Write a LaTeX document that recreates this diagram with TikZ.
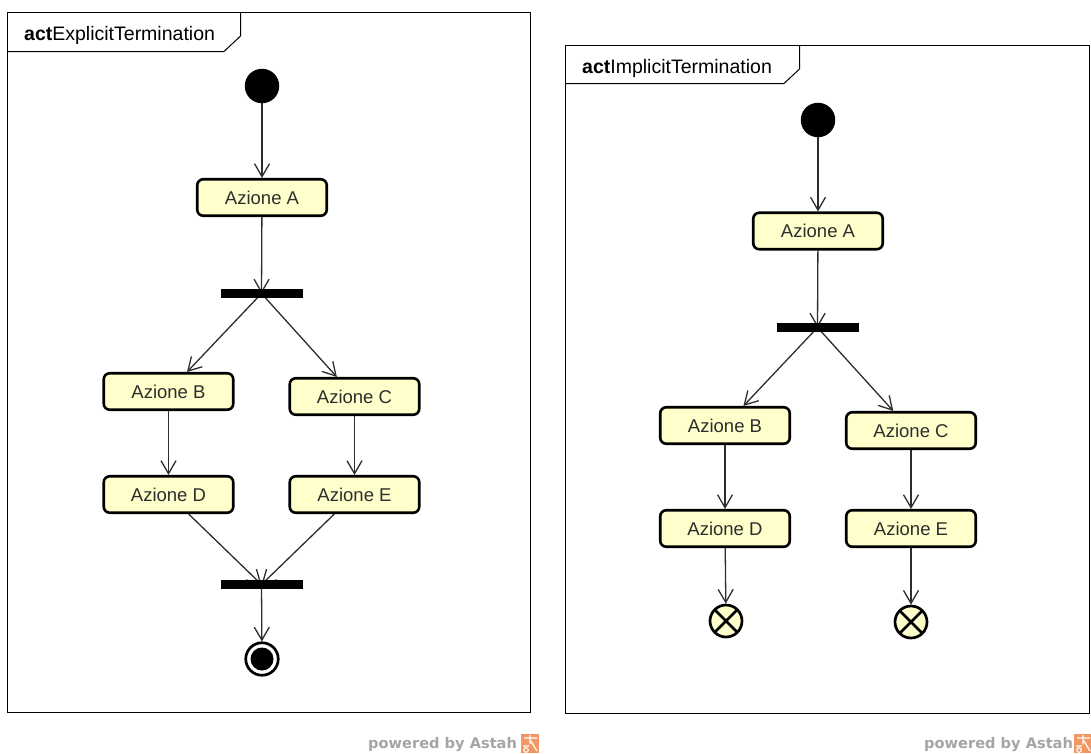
\documentclass[tikz,border=0pt]{standalone}
\usepackage{fontspec}
\setmainfont{Liberation Sans}
\newfontfamily\brandfont{DejaVu Sans}
\usetikzlibrary{arrows.meta}
\pgfdeclarelayer{bg}
\pgfsetlayers{bg,main}
\definecolor{actfill}{RGB}{255,255,204}
\definecolor{flowcol}{RGB}{45,45,45}
\definecolor{brandgray}{RGB}{165,165,165}
\definecolor{brandorange}{RGB}{242,150,100}

\begin{document}
\begin{tikzpicture}[x=1pt,y=-1pt,
  action/.style={draw=black, line width=2.6pt, rounded corners=6pt, fill=actfill,
    minimum width=129.5pt, minimum height=36.5pt, inner sep=0pt,
    font=\fontsize{18.5}{20}\selectfont, text=flowcol},
  bar/.style={fill=black, minimum width=82pt, minimum height=9pt, inner sep=0pt},
  initial/.style={circle, fill=black, minimum size=34.5pt, inner sep=0pt},
  final/.style={circle, draw=black, line width=2.7pt, minimum size=32.5pt, inner sep=0pt,
    path picture={\fill[black] (path picture bounding box.center) circle (11.5pt);}},
  flowfinal/.style={circle, draw=black, line width=2.7pt, fill=actfill, minimum size=32pt, inner sep=0pt,
    path picture={\draw[line width=2.7pt]
      (path picture bounding box.north west) -- (path picture bounding box.south east)
      (path picture bounding box.north east) -- (path picture bounding box.south west);}},
  flow/.style={draw=flowcol, line width=1.3pt,
    -{Straight Barb[length=13pt,width=15pt,line width=1.3pt]}},
  frame/.style={draw=black, line width=1pt},
  framelabel/.style={anchor=base west, inner sep=0pt, font=\fontsize{19.5}{22}\selectfont},
  brand/.style={anchor=base west, inner sep=0pt, text=brandgray,
    font=\brandfont\bfseries\fontsize{14.6}{16}\selectfont}
]
\useasboundingbox (0,0) rectangle (1091,753);

% ---------- left frame: explicit termination ----------
\draw[frame] (7.5,12.5) rectangle (530.5,712.5);
\draw[frame] (7.5,51.5) -- (224,51.5) -- (240.5,36) -- (240.5,12.5);
\node[framelabel] (labL) at (24,40) {\textbf{act}ExplicitTermination};

\node[initial] (iL) at (262,86) {};
\node[action] (aL) at (262,197.5) {Azione A};
\node[bar] (forkL) at (261.5,293.5) {};
\node[action] (bL) at (168.5,391.5) {Azione B};
\node[action] (cL) at (354.5,396.5) {Azione C};
\node[action] (dL) at (168.5,494.5) {Azione D};
\node[action] (eL) at (354.5,494.5) {Azione E};
\node[bar] (joinL) at (261.5,584.5) {};
\node[final] (fL) at (262,659) {};

\begin{pgfonlayer}{bg}
  \draw[flow] (iL) -- (aL);
  \draw[flow] (aL) -- (forkL.center);
  \draw[flow] (forkL.center) -- (bL);
  \draw[flow] (forkL.center) -- (cL);
  \draw[flow] (bL) -- (dL);
  \draw[flow] (cL) -- (eL);
  \draw[flow] (dL) -- (joinL.center);
  \draw[flow] (eL) -- (joinL.center);
  \draw[flow] (joinL.center) -- (fL);
\end{pgfonlayer}

% ---------- right frame: implicit termination ----------
\draw[frame] (565.5,45.5) rectangle (1089.5,713.5);
\draw[frame] (565.5,83.5) -- (784,83.5) -- (799.5,69) -- (799.5,45.5);
\node[framelabel] (labR) at (582,73) {\textbf{act}ImplicitTermination};

\node[initial] (iR) at (818,120) {};
\node[action] (aR) at (818,231) {Azione A};
\node[bar] (forkR) at (817.5,327.5) {};
\node[action] (bR) at (725,425.5) {Azione B};
\node[action] (cR) at (911,430.5) {Azione C};
\node[action] (dR) at (725,528.5) {Azione D};
\node[action] (eR) at (911,528.5) {Azione E};
\node[flowfinal] (ffD) at (726,621) {};
\node[flowfinal] (ffE) at (911,622) {};

\begin{pgfonlayer}{bg}
  \draw[flow] (iR) -- (aR);
  \draw[flow] (aR) -- (forkR.center);
  \draw[flow] (forkR.center) -- (bR);
  \draw[flow] (forkR.center) -- (cR);
  \draw[flow] (bR) -- (dR);
  \draw[flow] (cR) -- (eR);
  \draw[flow] (dR) -- (ffD);
  \draw[flow] (eR) -- (ffE);
\end{pgfonlayer}

% ---------- tool credits ----------
\node[brand] (pbL) at (368,748) {powered by Astah};
\node[brand] (pbR) at (924,748) {powered by Astah};
\foreach \x in {521,1074}{
  \fill[brandorange] (\x,734) rectangle (\x+18,753);
  \draw[white, line width=1.2pt] (\x+9,735) -- (\x+9,744) (\x+3,738) -- (\x+16,738)
    (\x+10,741) -- (\x+16,751) (\x+2,746) -- (\x+8,746);
  \draw[white, line width=1.1pt] (\x+5,750) circle (2.3pt);
}
\end{tikzpicture}
\end{document}
